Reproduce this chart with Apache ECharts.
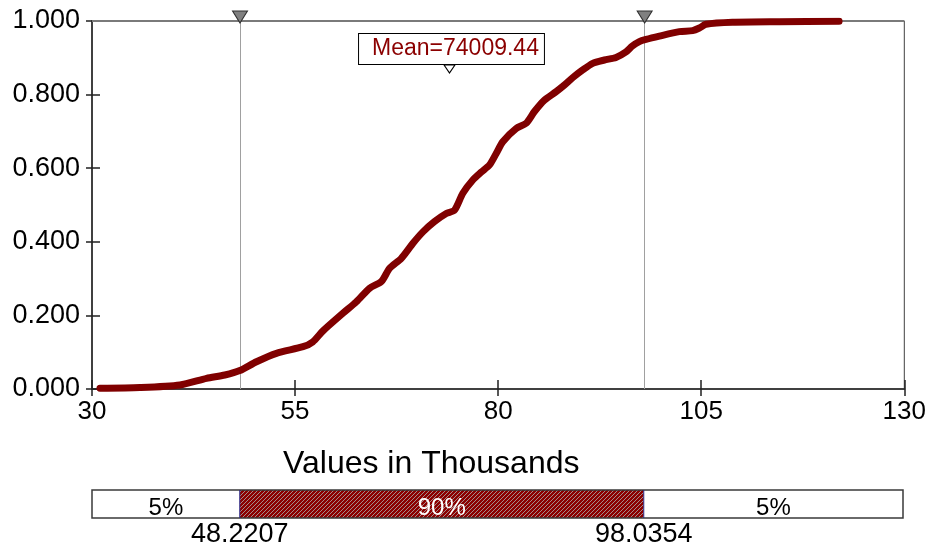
<!DOCTYPE html>
<html>
<head>
<meta charset="utf-8">
<script src="https://cdn.jsdelivr.net/npm/echarts@6/dist/echarts.min.js"></script>
<style>
  html, body { margin: 0; padding: 0; background: #fff; }
  #chart { width: 929px; height: 548px; }
</style>
</head>
<body>
<div id="chart"></div>
<script>
// Cumulative distribution: value (thousands) and cumulative probability
const cdfValues = [30.98, 35.90, 40.82, 44.10, 46.35, 48.20, 50.25, 52.71, 55.98, 57.17,
  58.44, 60.90, 62.55, 64.18, 65.62, 66.64, 68.08, 69.51, 70.74, 72.17,
  73.61, 74.63, 75.65, 76.88, 77.95, 78.94, 79.76, 80.57, 82.22, 83.45,
  84.47, 85.70, 87.14, 88.16, 89.18, 90.41, 91.64, 93.08, 94.51, 95.74,
  96.52, 97.38, 98.20, 99.85, 102.31, 103.94, 104.77, 105.58, 108.85, 114.6, 121.97];
const cdfProbs = [0.002, 0.004, 0.011, 0.029, 0.038, 0.050, 0.074, 0.097, 0.115, 0.128,
  0.158, 0.206, 0.237, 0.274, 0.292, 0.328, 0.355, 0.396, 0.427, 0.455,
  0.477, 0.486, 0.532, 0.568, 0.590, 0.609, 0.640, 0.672, 0.708, 0.722,
  0.754, 0.785, 0.808, 0.826, 0.846, 0.867, 0.885, 0.894, 0.901, 0.916,
  0.932, 0.944, 0.950, 0.959, 0.971, 0.974, 0.981, 0.991, 0.9965, 0.998, 0.999];

// Axis ranges
const xRange = [30, 130];
const xStep = 25;
const yRange = [0, 1];
const yStep = 0.2;

// Statistics
const meanValue = 74009.44;
const cutValues = [48.2207, 98.0354];
const bandLabels = ['5%', '90%', '5%'];
const axisTitle = 'Values in Thousands';

const FONT = '"Liberation Sans", Arial, sans-serif';
const CURVE = '#800000';

// Small diagonal hatch tile for the central band
function makeHatch() {
  const c = document.createElement('canvas');
  c.width = 4; c.height = 4;
  const g = c.getContext('2d');
  g.fillStyle = '#8b0000';
  g.fillRect(0, 0, 4, 4);
  g.strokeStyle = '#a48a8a';
  g.lineWidth = 1;
  g.beginPath();
  g.moveTo(-1, 5); g.lineTo(5, -1);
  g.moveTo(-1, 1); g.lineTo(1, -1);
  g.moveTo(3, 5); g.lineTo(5, 3);
  g.stroke();
  return c;
}
const hatchTile = makeHatch();

const curveData = cdfValues.map((v, i) => [v, cdfProbs[i]]);
const bandEdges = [xRange[0]].concat(cutValues, [xRange[1]]);
const bandData = bandLabels.map((lab, i) => [bandEdges[i], bandEdges[i + 1], i]);

const chart = echarts.init(document.getElementById('chart'), null, { renderer: 'canvas' });

const triangleMarker = (x) => ({
  coord: [x, yRange[1]],
  symbol: 'triangle',
  symbolRotate: 180,
  symbolSize: [15, 12],
  symbolOffset: [0, -4],
  itemStyle: { color: '#808080', borderColor: '#303030', borderWidth: 1 },
  label: { show: false }
});

const option = {
  animation: false,
  backgroundColor: '#fff',
  textStyle: { fontFamily: FONT },
  title: {
    text: axisTitle,
    left: 283,
    top: 448,
    padding: 0,
    textStyle: { fontSize: 32, fontWeight: 'normal', color: '#000', fontFamily: FONT }
  },
  grid: [
    { left: 92, right: 24, top: 21, bottom: 159, show: true, borderColor: '#404040', borderWidth: 1 },
    { left: 92, right: 26, top: 490, height: 28 }
  ],
  xAxis: [
    {
      gridIndex: 0, type: 'value', min: xRange[0], max: xRange[1], interval: xStep,
      axisLine: { show: true, lineStyle: { color: '#404040', width: 2 } },
      axisTick: { show: true, inside: true, length: 9, lineStyle: { color: '#202020', width: 1.5 } },
      axisLabel: { fontSize: 26, color: '#000', margin: 10, fontFamily: FONT },
      splitLine: { show: false }
    },
    {
      gridIndex: 0, type: 'value', min: xRange[0], max: xRange[1], interval: xStep, position: 'bottom',
      axisLine: { show: false },
      axisTick: { show: true, inside: false, length: 7, lineStyle: { color: '#202020', width: 1.5 } },
      axisLabel: { show: false },
      splitLine: { show: false }
    },
    { gridIndex: 1, type: 'value', min: xRange[0], max: xRange[1], show: false }
  ],
  yAxis: [
    {
      gridIndex: 0, type: 'value', min: yRange[0], max: yRange[1], interval: yStep,
      axisLine: { show: true, lineStyle: { color: '#404040', width: 2 } },
      axisTick: { show: true, inside: false, length: 6, lineStyle: { color: '#202020', width: 1.5 } },
      axisLabel: { formatter: (v) => v.toFixed(3), fontSize: 27, color: '#000', margin: 12, fontFamily: FONT },
      splitLine: { show: false }
    },
    {
      gridIndex: 0, type: 'value', min: yRange[0], max: yRange[1], interval: yStep, position: 'left',
      axisLine: { show: false },
      axisTick: { show: true, inside: true, length: 8, lineStyle: { color: '#202020', width: 1.5 } },
      axisLabel: { show: false },
      splitLine: { show: false }
    },
    { gridIndex: 1, type: 'value', min: 0, max: 1, show: false }
  ],
  series: [
    {
      name: 'CDF',
      type: 'line',
      xAxisIndex: 0, yAxisIndex: 0,
      data: curveData,
      showSymbol: false,
      smooth: 0.25,
      z: 5,
      lineStyle: { color: CURVE, width: 7, cap: 'round', join: 'round' },
      markLine: {
        silent: true,
        symbol: 'none',
        label: { show: false },
        data: [
          { xAxis: cutValues[0], lineStyle: { color: '#a0a0a0', width: 1, type: 'solid' } },
          { xAxis: cutValues[1], lineStyle: { color: '#a0a0a0', width: 1, type: 'solid' } },
          { yAxis: yRange[1], lineStyle: { color: '#7a7a7a', width: 2, type: 'solid' } }
        ]
      },
      markPoint: {
        silent: true,
        z: 10,
        data: [
          triangleMarker(cutValues[0]),
          triangleMarker(cutValues[1]),
          {
            coord: [meanValue / 1000, yRange[1]],
            symbol: 'rect',
            symbolSize: 1,
            itemStyle: { color: 'rgba(0,0,0,0)' },
            label: {
              show: true,
              position: 'inside',
              offset: [2, 28],
              formatter: 'Mean=' + meanValue.toFixed(2),
              color: '#8b0000',
              fontSize: 23,
              fontFamily: FONT,
              backgroundColor: '#fff',
              borderColor: '#000',
              borderWidth: 1,
              padding: [4, 5, 3, 13]
            }
          },
          {
            coord: [meanValue / 1000, yRange[1]],
            symbol: 'triangle',
            symbolRotate: 180,
            symbolSize: [11, 8],
            symbolOffset: [0, 48],
            itemStyle: { color: '#fff', borderColor: '#000', borderWidth: 1 },
            label: { show: false }
          }
        ]
      }
    },
    {
      // Shaded probability bands
      name: 'bands',
      type: 'custom',
      xAxisIndex: 2, yAxisIndex: 2,
      data: bandData,
      silent: true,
      z: 2,
      renderItem: (params, api) => {
        const s = api.value(0), e = api.value(1), i = api.value(2);
        const p0 = api.coord([s, 1]);
        const p1 = api.coord([e, 0]);
        const mid = i === 1;
        return {
          type: 'group',
          children: [
            {
              type: 'rect',
              shape: { x: p0[0], y: p0[1], width: p1[0] - p0[0], height: p1[1] - p0[1] },
              style: { fill: mid ? { image: hatchTile, repeat: 'repeat' } : '#fff' }
            },
            {
              type: 'text',
              x: (p0[0] + p1[0]) / 2,
              y: (p0[1] + p1[1]) / 2 + 4,
              style: {
                text: bandLabels[i],
                fill: mid ? '#fff' : '#000',
                font: '24px ' + FONT,
                align: 'center',
                verticalAlign: 'middle'
              }
            }
          ]
        };
      }
    },
    {
      // Outline around the band strip
      name: 'frame',
      type: 'custom',
      xAxisIndex: 2, yAxisIndex: 2,
      data: [[xRange[0], xRange[1]]],
      silent: true,
      z: 3,
      renderItem: (params, api) => {
        const p0 = api.coord([api.value(0), 1]);
        const p1 = api.coord([api.value(1), 0]);
        return {
          type: 'rect',
          shape: { x: p0[0], y: p0[1], width: p1[0] - p0[0], height: p1[1] - p0[1] },
          style: { fill: 'none', stroke: '#3a3a3a', lineWidth: 1.5 }
        };
      }
    },
    {
      // Percentile dividers and their values
      name: 'cuts',
      type: 'custom',
      xAxisIndex: 2, yAxisIndex: 2,
      data: cutValues.map((v) => [v]),
      silent: true,
      z: 4,
      renderItem: (params, api) => {
        const v = api.value(0);
        const top = api.coord([v, 1]);
        const bot = api.coord([v, 0]);
        return {
          type: 'group',
          children: [
            {
              type: 'line',
              shape: { x1: top[0], y1: top[1], x2: bot[0], y2: bot[1] },
              style: { stroke: '#2a2a8a', lineWidth: 1 }
            },
            {
              type: 'text',
              x: bot[0],
              y: bot[1] + 17,
              style: {
                text: v.toFixed(4),
                fill: '#000',
                font: '27px ' + FONT,
                align: 'center',
                verticalAlign: 'middle'
              }
            }
          ]
        };
      }
    }
  ]
};

chart.setOption(option);
</script>
</body>
</html>
